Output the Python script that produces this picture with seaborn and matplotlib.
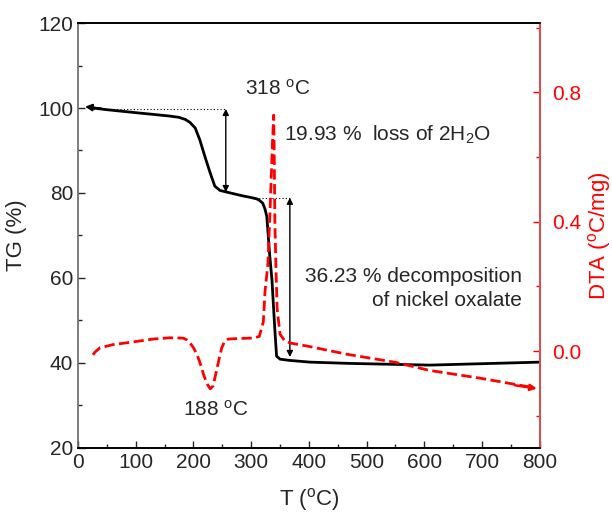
import numpy as np
import pandas as pd
import matplotlib
matplotlib.use("Agg")
import matplotlib.pyplot as plt
import seaborn as sns
from matplotlib.ticker import MultipleLocator

# ---- data ----
tg_T = [20, 50, 100, 130, 159, 175, 186, 194, 203, 211, 220, 229, 237, 246, 258,
        286, 301, 310, 315, 320, 324, 327, 329, 332, 336, 341, 344, 350, 367, 402,
        471, 609, 800]
tg_val = [100.1, 99.6, 98.9, 98.5, 98.1, 97.8, 97.3, 96.6, 95.3, 92.5, 88.5, 84.7,
          81.6, 80.6, 80.2, 79.3, 78.9, 78.6, 78.2, 77.6, 76.2, 74.5, 71.0, 65.5,
          59.5, 47.8, 41.6, 40.9, 40.6, 40.2, 39.9, 39.5, 40.2]

dta_T = [26, 29, 38, 61, 95, 130, 159, 182, 189, 194, 200, 206, 212, 217, 223, 229,
         234, 240, 245, 249, 254, 260, 280, 303, 314, 321, 324, 329, 333, 337, 339,
         340, 341, 343, 345, 350, 358, 367, 398, 466, 550, 609, 700, 785]
dta_val = [-0.012, -0.004, 0.01, 0.02, 0.028, 0.037, 0.041, 0.04, 0.034, 0.025,
           0.01, -0.01, -0.04, -0.07, -0.1, -0.117, -0.108, -0.06, -0.02, 0.01,
           0.03, 0.037, 0.039, 0.04, 0.045, 0.09, 0.185, 0.27, 0.45, 0.65, 0.73,
           0.6, 0.4, 0.25, 0.13, 0.052, 0.032, 0.025, 0.015, -0.01, -0.035, -0.06,
           -0.085, -0.112]

x_ticks = [0, 100, 200, 300, 400, 500, 600, 700, 800]
tg_ticks = [20, 40, 60, 80, 100, 120]
dta_ticks = [0.0, 0.4, 0.8]
dta_ticklabels = ["0.0", "0.4", "0.8"]

tg_df = pd.DataFrame({"T": tg_T, "TG": tg_val})
dta_df = pd.DataFrame({"T": dta_T, "DTA": dta_val})

sns.set_style("ticks")
plt.rcParams["font.family"] = ["Liberation Sans", "DejaVu Sans"]
plt.rcParams["mathtext.default"] = "regular"

fig = plt.figure(figsize=(6.12, 5.17), dpi=100)
ax = fig.add_axes([0.1275, 0.1335, 0.7545, 0.822])
ax2 = ax.twinx()

sns.lineplot(data=tg_df, x="T", y="TG", ax=ax, color="black", lw=2, sort=False)
sns.lineplot(data=dta_df, x="T", y="DTA", ax=ax2, color="red", lw=2, sort=False,
             linestyle="--", dashes=(4.5, 2.5))

fs_tick = 15
fs_lab = 16
fs_txt = 15
ax.set_xlim(0, 800)
ax.set_ylim(20, 120)
ax2.set_ylim(-0.30, 1.015)
ax.set_xticks(x_ticks)
ax.set_yticks(tg_ticks)
ax2.set_yticks(dta_ticks)
ax2.set_yticklabels(dta_ticklabels)
ax.xaxis.set_minor_locator(MultipleLocator(50))
ax.yaxis.set_minor_locator(MultipleLocator(10))
ax2.yaxis.set_minor_locator(MultipleLocator(0.2))

ax.tick_params(axis="both", which="major", labelsize=fs_tick, length=5, width=1,
               direction="in", top=False, right=False)
ax.tick_params(axis="both", which="minor", length=3, width=1, direction="in",
               top=False, right=False)
ax2.tick_params(axis="y", which="major", labelsize=fs_tick, length=5, width=1,
                direction="in", colors="red", pad=9)
ax2.tick_params(axis="y", which="minor", length=3, width=1, direction="in",
                colors="red")

ax.set_xlabel("T ($^{o}$C)", fontsize=fs_lab, labelpad=10)
ax.set_ylabel("TG (%)", fontsize=fs_lab, labelpad=8)
ax2.set_ylabel("DTA ($^{o}$C/mg)", fontsize=fs_lab, color="red", labelpad=3)

for a in (ax, ax2):
    for s in a.spines.values():
        s.set_linewidth(1.2)
        s.set_color("black")
ax.spines["left"].set_color("#666666")
ax2.spines["left"].set_visible(False)
ax2.spines["right"].set_color("#ff5555")

# guide lines and arrows
ax.plot([20, 256], [99.8, 99.8], color="black", lw=0.8, ls=(0, (1, 2)))
ax.plot([301, 367], [78.9, 78.9], color="black", lw=0.8, ls=(0, (1, 2)))
arrow_kw = dict(arrowstyle="<|-|>", color="black", lw=1, mutation_scale=9,
                shrinkA=0, shrinkB=0)
ax.annotate("", xy=(256, 80.2), xytext=(256, 99.8), arrowprops=arrow_kw)
ax.annotate("", xy=(367, 41.4), xytext=(367, 78.9), arrowprops=arrow_kw)
ax.annotate("", xy=(12, 100.3), xytext=(40, 99.9),
            arrowprops=dict(arrowstyle="-|>", color="black", lw=1.5,
                            mutation_scale=10, shrinkA=0, shrinkB=0))
ax2.annotate("", xy=(795, -0.116), xytext=(757, -0.106),
             arrowprops=dict(arrowstyle="-|>", color="red", lw=1.8,
                             mutation_scale=9, shrinkA=0, shrinkB=0))

ax.text(290, 104.6, "318 $^{o}$C", fontsize=fs_txt, ha="left", va="center")
ax.text(357, 93.6, "19.93 %  loss of 2H$_2$O", fontsize=fs_txt, ha="left",
        va="center")
ax.text(769, 57.5, "36.23 % decomposition\nof nickel oxalate", fontsize=fs_txt,
        ha="right", va="center", multialignment="right", linespacing=1.3)
ax.text(182, 29, "188 $^{o}$C", fontsize=fs_txt, ha="left", va="center")

fig.savefig("out.png", dpi=100)
